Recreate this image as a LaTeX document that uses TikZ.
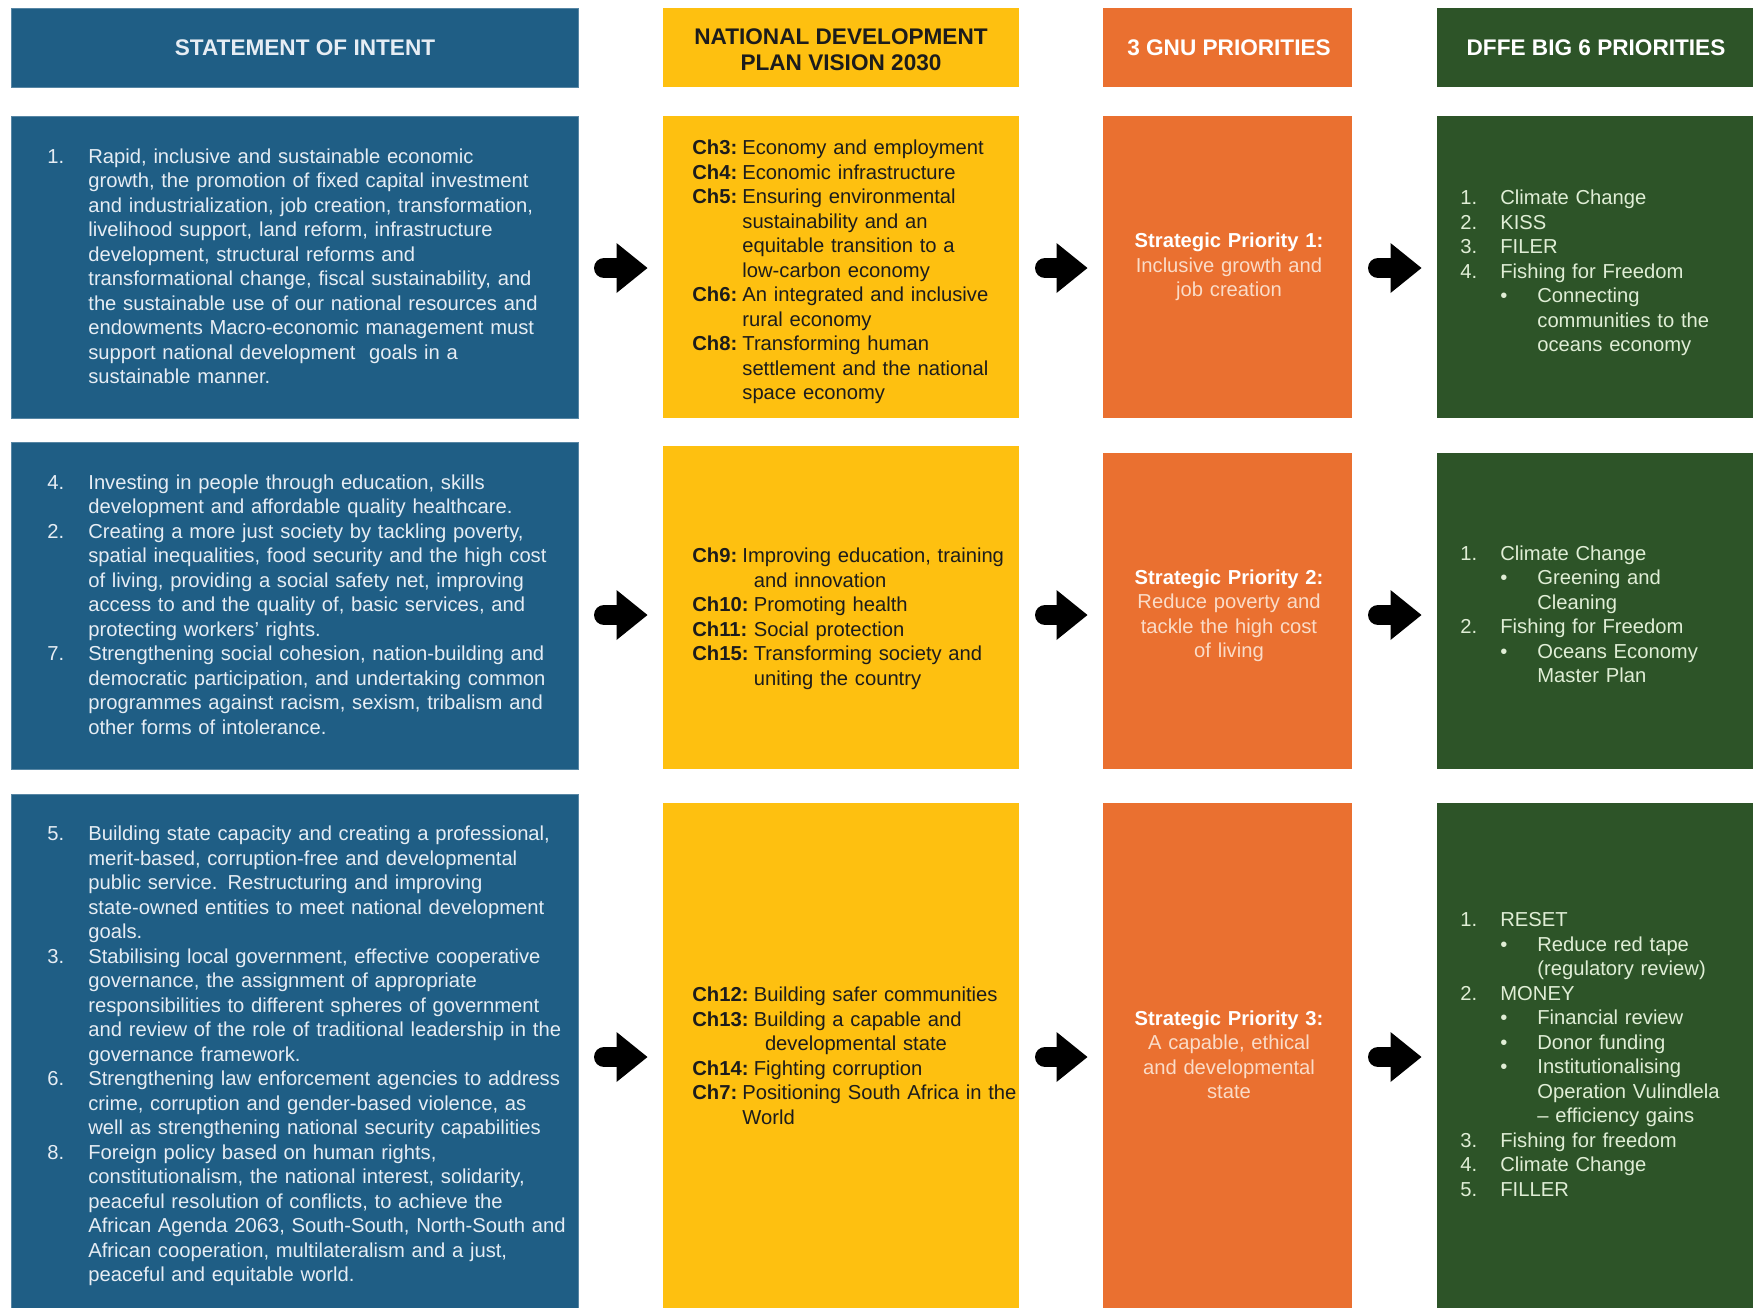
\documentclass[tikz,border=0pt]{standalone}
\usepackage{fontspec}
\setmainfont{Liberation Sans}
\usetikzlibrary{fit,arrows.meta,calc}

\definecolor{soiblue}{RGB}{31,94,133}
\definecolor{ndpyellow}{RGB}{254,192,16}
\definecolor{gnuorange}{RGB}{234,112,48}
\definecolor{dffegreen}{RGB}{45,84,40}
\definecolor{bluetext}{RGB}{230,237,244}
\definecolor{greentext}{RGB}{224,238,214}
\definecolor{orangetext}{RGB}{250,220,200}
\definecolor{darktext}{RGB}{28,28,28}

\newcommand\nl{\newline}
\newcommand\numitem[3]{\par\noindent\hangindent=#1\relax\hangafter=1\relax\makebox[#1][l]{#2}#3\par}
\newcommand\bulitem[3]{\par\noindent\hangindent=\dimexpr#1+#2\relax\hangafter=1\relax\hspace*{#1}\makebox[#2][l]{\textbullet}#3\par}
% #1 label box width, #2 hanging indent, #3 label, #4 text
\newcommand\chitem[4]{\par\noindent\hangindent=#2\relax\hangafter=1\relax\makebox[#1][l]{\textbf{#3}}#4\par}

\tikzset{
  box/.style={inner sep=0pt, outer sep=0pt, draw=none},
  bluebox/.style={box, fill=soiblue, draw=soiblue!75!white, line width=0.4pt},
  yellowbox/.style={box, fill=ndpyellow},
  orangebox/.style={box, fill=gnuorange},
  greenbox/.style={box, fill=dffegreen},
  headtext/.style={inner sep=0pt, align=center, font=\fontsize{11.3pt}{13pt}\selectfont\bfseries},
  bodytext/.style={inner sep=0pt, align=left, font=\fontsize{10.1pt}{12.25pt}\selectfont},
  bluetxt/.style={bodytext, anchor=west, text width=275pt, text=bluetext},
  yellowtxt/.style={bodytext, anchor=west, text width=175pt, text=darktext},
  orangetxt/.style={inner sep=0pt, align=center, text width=120pt, text=orangetext, font=\fontsize{10.1pt}{12.25pt}\selectfont},
  greentxt/.style={bodytext, anchor=west, text width=145pt, text=greentext},
  fatarrow/.style={draw=black, line width=10pt, line cap=round,
    -{Triangle[length=15.5pt 0 0, width=25pt 0 0, line width=0pt 0 0]},
    shorten <=13pt, shorten >=7.75pt}
}

\begin{document}
\begin{tikzpicture}[x=0.5pt,y=-0.5pt]
\fill[white] (0,0) rectangle (1753,1308);
\useasboundingbox (0,0) rectangle (1753,1308);

% row coordinates for the arrows
\coordinate (r1) at (0,268);
\coordinate (r2) at (0,615);
\coordinate (r3) at (0,1057);

% headers
\node[bluebox, fit={(11,8) (578,87)}] (h1) {};
\node[yellowbox, fit={(663,8) (1019,87)}] (h2) {};
\node[orangebox, fit={(1103,8) (1352,87)}] (h3) {};
\node[greenbox, fit={(1437,8) (1753,87)}] (h4) {};
\node[headtext, text=bluetext] (h1t) at (305,48) {STATEMENT OF INTENT};
\node[headtext, text=darktext] (h2t) at (841,50) {NATIONAL DEVELOPMENT\\PLAN VISION 2030};
\node[headtext, text=white] (h3t) at (1229,48) {3 GNU PRIORITIES};
\node[headtext, text=white] (h4t) at (1596,48) {DFFE BIG 6 PRIORITIES};

% boxes row 1
\node[bluebox, fit={(11,116) (578,418)}] (b1) {};
\node[yellowbox, fit={(663,116) (1019,418)}] (y1) {};
\node[orangebox, fit={(1103,116) (1352,418)}] (o1) {};
\node[greenbox, fit={(1437,116) (1753,418)}] (g1) {};
% boxes row 2
\node[bluebox, fit={(11,442) (578,769)}] (b2) {};
\node[yellowbox, fit={(663,446) (1019,769)}] (y2) {};
\node[orangebox, fit={(1103,453) (1352,769)}] (o2) {};
\node[greenbox, fit={(1437,453) (1753,769)}] (g2) {};
% boxes row 3
\node[bluebox, fit={(11,794) (578,1310)}] (b3) {};
\node[yellowbox, fit={(663,803) (1019,1308)}] (y3) {};
\node[orangebox, fit={(1103,803) (1352,1308)}] (o3) {};
\node[greenbox, fit={(1437,803) (1753,1308)}] (g3) {};

% blue texts
\node[bluetxt] (bt1) at (47,261.5) {%
\numitem{20.5pt}{1.}{Rapid, inclusive and sustainable economic\nl growth, the promotion of fixed capital investment\nl and industrialization, job creation, transformation,\nl livelihood support, land reform, infrastructure\nl development, structural reforms and\nl transformational change, fiscal sustainability, and\nl the sustainable use of our national resources and\nl endowments Macro-economic management must\nl support national development\ \ goals in a\nl sustainable manner.}};

\node[bluetxt] (bt2) at (47,599.5) {%
\numitem{20.5pt}{4.}{Investing in people through education, skills\nl development and affordable quality healthcare.}
\numitem{20.5pt}{2.}{Creating a more just society by tackling poverty,\nl spatial inequalities, food security and the high cost\nl of living, providing a social safety net, improving\nl access to and the quality of, basic services, and\nl protecting workers’ rights.}
\numitem{20.5pt}{7.}{Strengthening social cohesion, nation-building and\nl democratic participation, and undertaking common\nl programmes against racism, sexism, tribalism and\nl other forms of intolerance.}};

\node[bluetxt] (bt3) at (47,1051) {%
\numitem{20.5pt}{5.}{Building state capacity and creating a professional,\nl merit-based, corruption-free and developmental\nl public service. Restructuring and improving\nl state-owned entities to meet national development\nl goals.}
\numitem{20.5pt}{3.}{Stabilising local government, effective cooperative\nl governance, the assignment of appropriate\nl responsibilities to different spheres of government\nl and review of the role of traditional leadership in the\nl governance framework.}
\numitem{20.5pt}{6.}{Strengthening law enforcement agencies to address\nl crime, corruption and gender-based violence, as\nl well as strengthening national security capabilities}
\numitem{20.5pt}{8.}{Foreign policy based on human rights,\nl constitutionalism, the national interest, solidarity,\nl peaceful resolution of conflicts, to achieve the\nl African Agenda 2063, South-South, North-South and\nl African cooperation, multilateralism and a just,\nl peaceful and equitable world.}};

% yellow texts
\node[yellowtxt] (yt1) at (692,267) {%
\chitem{25pt}{25pt}{Ch3:}{Economy and employment}
\chitem{25pt}{25pt}{Ch4:}{Economic infrastructure}
\chitem{25pt}{25pt}{Ch5:}{Ensuring environmental\nl sustainability and an\nl equitable transition to a\nl low-carbon economy}
\chitem{25pt}{25pt}{Ch6:}{An integrated and inclusive\nl rural economy}
\chitem{25pt}{25pt}{Ch8:}{Transforming human\nl settlement and the national\nl space economy}};

\node[yellowtxt] (yt2) at (692,614) {%
\chitem{25pt}{30.75pt}{Ch9:}{Improving education, training\nl and innovation}
\chitem{30.75pt}{30.75pt}{Ch10:}{Promoting health}
\chitem{30.75pt}{30.75pt}{Ch11:}{Social protection}
\chitem{30.75pt}{30.75pt}{Ch15:}{Transforming society and\nl uniting the country}};

\node[yellowtxt] (yt3) at (692,1051) {%
\chitem{30.75pt}{30.75pt}{Ch12:}{Building safer communities}
\chitem{30.75pt}{36.3pt}{Ch13:}{Building a capable and\nl developmental state}
\chitem{30.75pt}{30.75pt}{Ch14:}{Fighting corruption}
\chitem{25pt}{25pt}{Ch7:}{Positioning South Africa in the\nl World}};

% orange texts
\node[orangetxt] (ot1) at (1229,267) {\textcolor{white}{\textbf{Strategic Priority 1:}}\\Inclusive growth and\\job creation};
\node[orangetxt] (ot2) at (1229,616) {\textcolor{white}{\textbf{Strategic Priority 2:}}\\Reduce poverty and\\tackle the high cost\\of living};
\node[orangetxt] (ot3) at (1229,1055) {\textcolor{white}{\textbf{Strategic Priority 3:}}\\A capable, ethical\\and developmental\\state};

% green texts
\node[greentxt] (gt1) at (1460,268) {%
\numitem{20pt}{1.}{Climate Change}
\numitem{20pt}{2.}{KISS}
\numitem{20pt}{3.}{FILER}
\numitem{20pt}{4.}{Fishing for Freedom}
\bulitem{20pt}{18.5pt}{Connecting\nl communities to the\nl oceans economy}};

\node[greentxt] (gt2) at (1460,609.5) {%
\numitem{20pt}{1.}{Climate Change}
\bulitem{20pt}{18.5pt}{Greening and\nl Cleaning}
\numitem{20pt}{2.}{Fishing for Freedom}
\bulitem{20pt}{18.5pt}{Oceans Economy\nl Master Plan}};

\node[greentxt] (gt3) at (1460,1049.5) {%
\numitem{20pt}{1.}{RESET}
\bulitem{20pt}{18.5pt}{Reduce red tape\nl (regulatory review)}
\numitem{20pt}{2.}{MONEY}
\bulitem{20pt}{18.5pt}{Financial review}
\bulitem{20pt}{18.5pt}{Donor funding}
\bulitem{20pt}{18.5pt}{Institutionalising\nl Operation Vulindlela\nl – efficiency gains}
\numitem{20pt}{3.}{Fishing for freedom}
\numitem{20pt}{4.}{Climate Change}
\numitem{20pt}{5.}{FILLER}};

% arrows
\draw[fatarrow] (b1.east |- r1) -- (y1.west |- r1);
\draw[fatarrow] (y1.east |- r1) -- (o1.west |- r1);
\draw[fatarrow] (o1.east |- r1) -- (g1.west |- r1);
\draw[fatarrow] (b2.east |- r2) -- (y2.west |- r2);
\draw[fatarrow] (y2.east |- r2) -- (o2.west |- r2);
\draw[fatarrow] (o2.east |- r2) -- (g2.west |- r2);
\draw[fatarrow] (b3.east |- r3) -- (y3.west |- r3);
\draw[fatarrow] (y3.east |- r3) -- (o3.west |- r3);
\draw[fatarrow] (o3.east |- r3) -- (g3.west |- r3);
\end{tikzpicture}
\end{document}
